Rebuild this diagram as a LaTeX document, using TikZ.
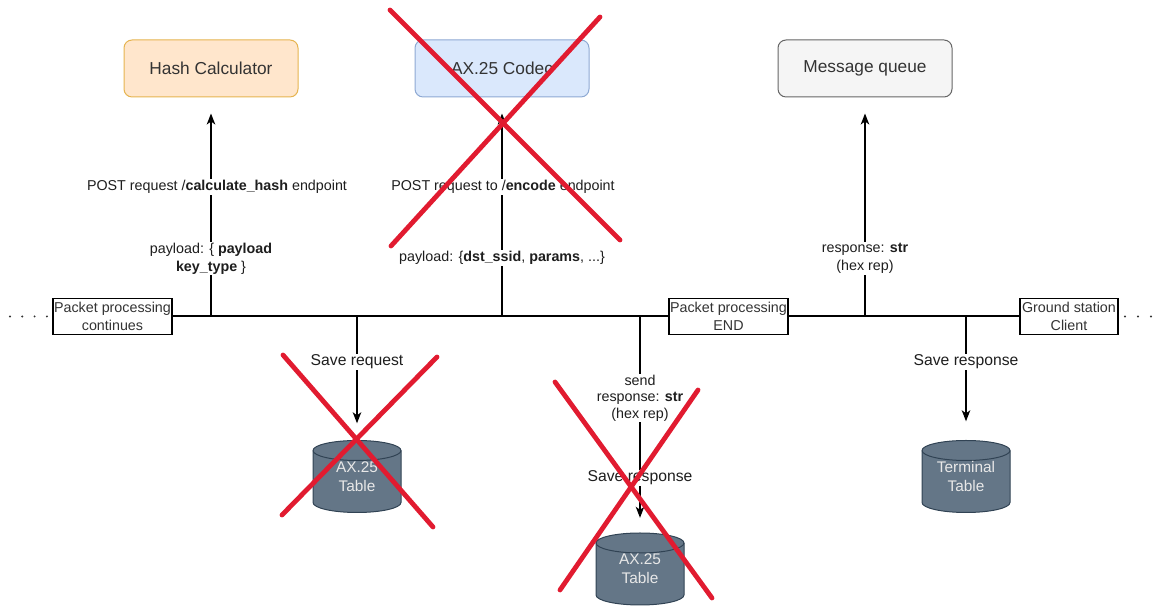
\documentclass[tikz,border=0pt]{standalone}
\usepackage{fontspec}
\setmainfont{Liberation Sans}
\usetikzlibrary{arrows.meta}
\definecolor{hashfill}{HTML}{FFE6CC}
\definecolor{hashdraw}{HTML}{E6B450}
\definecolor{codecfill}{HTML}{DAE8FC}
\definecolor{codecdraw}{HTML}{8EA9D3}
\definecolor{mqfill}{HTML}{F5F5F5}
\definecolor{mqdraw}{HTML}{666666}
\definecolor{cylfill}{HTML}{647687}
\definecolor{cyldraw}{HTML}{314354}
\definecolor{cyltext}{HTML}{E8E8E8}
\definecolor{crossred}{HTML}{E11B30}
\definecolor{txt}{HTML}{1E1E1E}
\definecolor{boxtxt}{HTML}{333333}

\tikzset{
  svc/.style={rounded corners=8pt, line width=1pt, minimum width=174pt, minimum height=57pt,
    inner sep=0pt, text=boxtxt, font=\fontsize{17.3}{20}\selectfont},
  stage/.style={draw=black, fill=white, line width=1.3pt, minimum height=36pt, inner sep=0pt,
    align=center, text=boxtxt, font=\fontsize{14.3}{18}\selectfont},
  mainline/.style={line width=2pt, black},
  arr/.style={line width=1.3pt, black, -{Stealth[length=11pt,width=8.5pt,inset=3pt]}},
  elabel/.style={fill=white, inner sep=1pt, align=center, text=txt, font=\fontsize{14.3}{18}\selectfont},
  slabel/.style={fill=white, inner sep=1pt, align=center, text=txt, font=\fontsize{15.7}{19}\selectfont},
  cylbody/.style={fill=cylfill, draw=cyldraw, line width=1pt},
  cyllabel/.style={minimum width=88pt, minimum height=72pt, inner sep=0pt, align=center,
    text=cyltext, font=\fontsize{15.4}{19}\selectfont},
  dotline/.style={line width=2.2pt, line cap=round, dash pattern=on 0pt off 12.3pt, black!80},
  cross/.style={line width=4.8pt, crossred, line cap=round},
}

\newcommand\dbcyl[4]{%
  \begin{scope}[shift={(#2,#3)}]
    \filldraw[cylbody] (-44,26) -- (-44,-26)
      arc[start angle=180,end angle=360,x radius=44pt,y radius=10pt]
      -- (44,26) arc[start angle=0,end angle=180,x radius=44pt,y radius=10pt] -- cycle;
    \draw[cylbody, fill=none] (-44,26)
      arc[start angle=180,end angle=360,x radius=44pt,y radius=10pt];
  \end{scope}
  \node[cyllabel] (#1) at (#2,#3) {#4};
}

\begin{document}
\begin{tikzpicture}[x=1pt,y=1pt]
\useasboundingbox (0,0) rectangle (1163,607);

% top services
\node[svc, draw=hashdraw, fill=hashfill] (hash) at (211,538.5) {Hash Calculator};
\node[svc, draw=codecdraw, fill=codecfill] (codec) at (502,538.5) {AX.25 Codec};
\node[svc, draw=mqdraw, fill=mqfill] (mq) at (865,538.5) {Message queue};

% stage boxes on the main line
\node[stage, minimum width=119pt] (pc) at (112.5,290.5) {Packet processing\\continues};
\node[stage, minimum width=119pt] (pend) at (728.5,290.5) {Packet processing\\END};
\node[stage, minimum width=98pt] (gs) at (1069,290.5) {Ground station\\Client};

% main line
\draw[mainline] (pc.east) -- (pend.west);
\draw[mainline] (pend.east) -- (gs.west);

% dotted continuations
\coordinate (ldot) at (10,290.5);
\coordinate (ldotend) at (50,290.5);
\draw[dotline] (ldot) -- (ldotend);
\coordinate (rdot) at (1125,290.5);
\coordinate (rdotend) at (1160,290.5);
\draw[dotline, dash pattern=on 0pt off 13pt] (rdot) -- (rdotend);

% joints on the main line
\coordinate (j1) at (211,290.5);
\coordinate (j2) at (357,290.5);
\coordinate (j3) at (502,290.5);
\coordinate (j4) at (640,290.5);
\coordinate (j5) at (865,290.5);
\coordinate (j6) at (966,290.5);

% databases
\dbcyl{cyl1}{357}{130.5}{AX.25\\Table}
\dbcyl{cyl2}{640}{38}{AX.25\\Table}
\dbcyl{cyl3}{966}{130.5}{Terminal\\Table}

% connectors up
\draw[arr, shorten >=16pt] (j1) -- (hash.south);
\draw[arr, shorten >=16pt] (j3) -- (codec.south);
\draw[arr, shorten >=16pt] (j5) -- (mq.south);

% connectors down
\draw[arr, shorten >=17pt] (j2) -- (cyl1.north);
\draw[arr, shorten >=15pt] (j4) -- (cyl2.north);
\draw[arr, shorten >=19pt] (j6) -- (cyl3.north);

% labels
\node[elabel] (l1) at (217,420) {POST request /\textbf{calculate\_hash} endpoint};
\node[elabel] (l2) at (211,348.5) {payload: \{ \textbf{payload}\\\textbf{key\_type} \}};
\node[elabel] (l3) at (503,420) {POST request to /\textbf{encode} endpoint};
\node[elabel] (l4) at (502,349) {payload: \{\textbf{dst\_ssid}, \textbf{params}, ...\}};
\node[elabel] (l5) at (865,348.5) {response: \textbf{str}\\(hex rep)};
\node[slabel] (l6) at (357,245) {Save request};
\node[elabel, font=\fontsize{14.3}{16.5}\selectfont] (l7) at (640,209) {send\\response: \textbf{str}\\(hex rep)};
\node[slabel] (l8) at (640,129) {Save response};
\node[slabel] (l9) at (966,245) {Save response};

% red crosses
\draw[cross] (390,597) -- (620,367);
\draw[cross] (600,590) -- (391,361);
\draw[cross] (283,252) -- (433,80);
\draw[cross] (437,250) -- (282,92);
\draw[cross] (555,225) -- (712,9);
\draw[cross] (698,217) -- (560,17);
\end{tikzpicture}
\end{document}
